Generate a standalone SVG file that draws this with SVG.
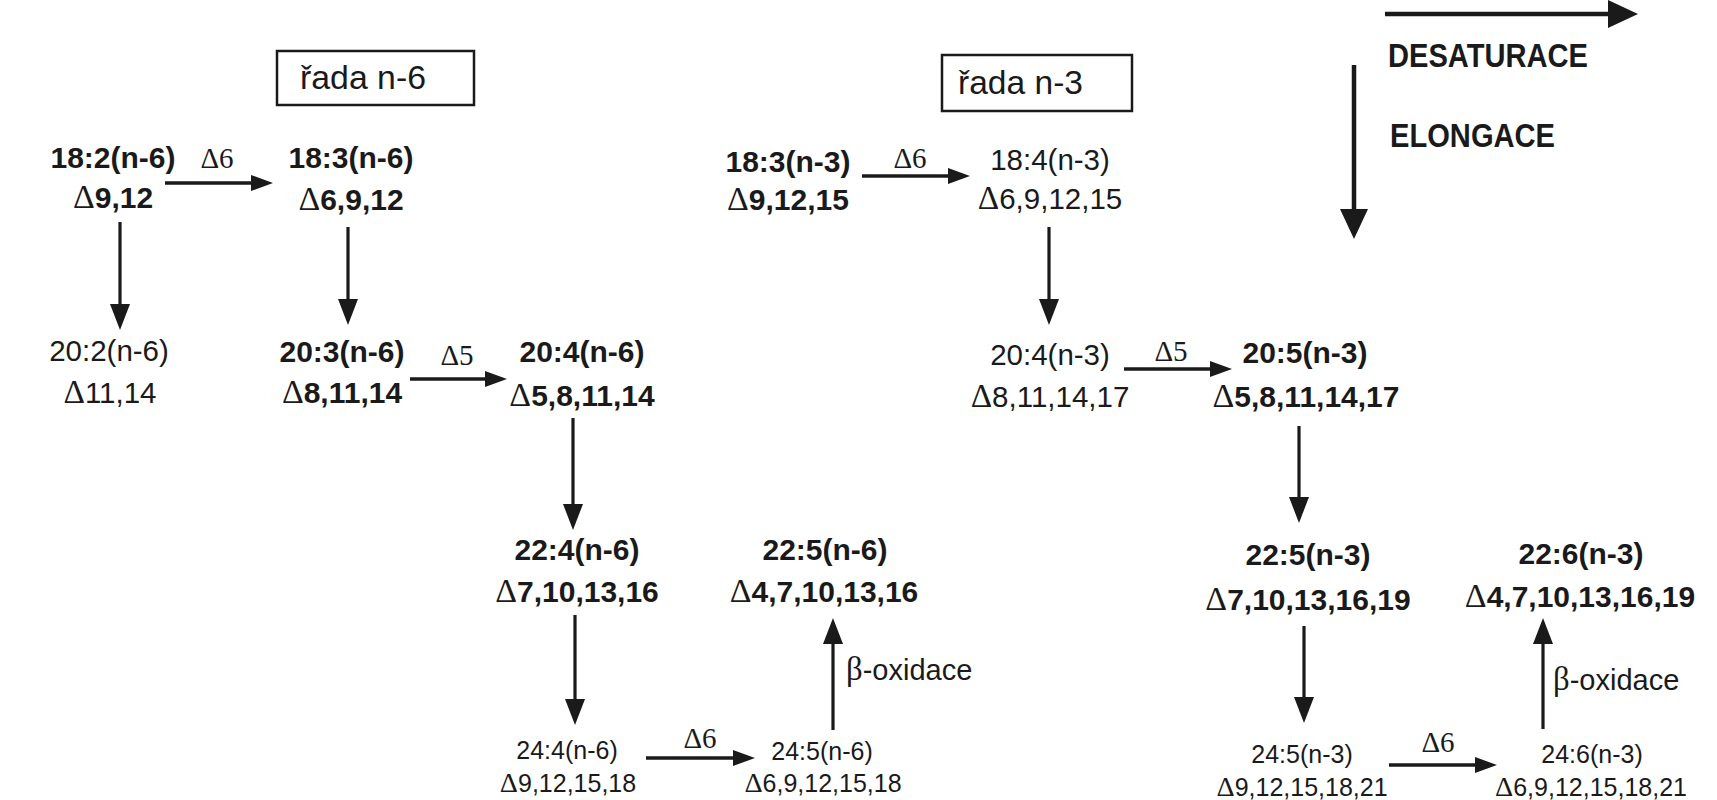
<svg xmlns="http://www.w3.org/2000/svg" width="1717" height="800" viewBox="0 0 1717 800">
<style>
text{fill:#1a1a1a}
.b{font-family:"Liberation Sans",Arial,sans-serif;font-weight:bold;font-size:30px;text-anchor:middle}
.r{font-family:"Liberation Sans",Arial,sans-serif;font-size:29.5px;text-anchor:middle}
.s{font-family:"Liberation Sans",Arial,sans-serif;font-size:25px;text-anchor:middle}
.d{font-family:"Liberation Serif","Times New Roman",serif;font-weight:normal;font-size:1.13em}
.lab{font-family:"Liberation Serif","Times New Roman",serif;font-size:29px;text-anchor:middle}
.ox{font-family:"Liberation Sans",Arial,sans-serif;font-size:29px}
.hdr{font-family:"Liberation Sans",Arial,sans-serif;font-weight:bold;font-size:33px}
.box{fill:none;stroke:#1a1a1a;stroke-width:2.5}
.ser{font-family:"Liberation Sans",Arial,sans-serif;font-size:33px}
.h{stroke:#1a1a1a;stroke-width:3.5;fill:none;marker-end:url(#ah)}
.v{stroke:#1a1a1a;stroke-width:3.2;fill:none;marker-end:url(#av)}
.big{stroke:#1a1a1a;stroke-width:4.5;fill:none;marker-end:url(#ab)}
</style>
<defs>
<marker id="ah" viewBox="0 0 22 16" refX="14" refY="8" markerWidth="22" markerHeight="16" markerUnits="userSpaceOnUse" orient="auto"><path d="M0,0 L22,8 L0,16 z" fill="#1a1a1a"/></marker>
<marker id="av" viewBox="0 0 26 20" refX="18" refY="10" markerWidth="26" markerHeight="20" markerUnits="userSpaceOnUse" orient="auto"><path d="M0,0 L26,10 L0,20 z" fill="#1a1a1a"/></marker>
<marker id="ab" viewBox="0 0 30 28" refX="20" refY="14" markerWidth="30" markerHeight="28" markerUnits="userSpaceOnUse" orient="auto"><path d="M0,0 L30,14 L0,28 z" fill="#1a1a1a"/></marker>
</defs>
<rect width="1717" height="800" fill="#fff"/>

<g id="series-n6">
<rect class="box" x="277" y="51" width="197" height="54"/>
<text class="ser" x="300" y="89" textLength="126" lengthAdjust="spacingAndGlyphs">řada n-6</text>
</g>
<g id="series-n3">
<rect class="box" x="942" y="55" width="190" height="56"/>
<text class="ser" x="958" y="94" textLength="125" lengthAdjust="spacingAndGlyphs">řada n-3</text>
</g>

<g id="legend">
<line class="big" x1="1385" y1="14" x2="1628" y2="14"/>
<text class="hdr" x="1388" y="67" textLength="200" lengthAdjust="spacingAndGlyphs">DESATURACE</text>
<text class="hdr" x="1390" y="147" textLength="165" lengthAdjust="spacingAndGlyphs">ELONGACE</text>
<line class="big" x1="1354" y1="65" x2="1354" y2="229"/>
</g>

<g id="n-18-2-n6"><text class="b" x="113" y="168">18:2(n-6)</text><text class="b" x="113" y="208"><tspan class="d">Δ</tspan>9,12</text></g>
<g id="n-18-3-n6"><text class="b" x="351" y="168">18:3(n-6)</text><text class="b" x="351" y="210"><tspan class="d">Δ</tspan>6,9,12</text></g>
<g id="n-20-2-n6"><text class="r" x="109" y="361">20:2(n-6)</text><text class="r" x="110" y="403"><tspan class="d">Δ</tspan>11,14</text></g>
<g id="n-20-3-n6"><text class="b" x="342" y="362">20:3(n-6)</text><text class="b" x="342" y="403"><tspan class="d">Δ</tspan>8,11,14</text></g>
<g id="n-20-4-n6"><text class="b" x="582" y="362">20:4(n-6)</text><text class="b" x="582" y="406"><tspan class="d">Δ</tspan>5,8,11,14</text></g>
<g id="n-22-4-n6"><text class="b" x="577" y="560">22:4(n-6)</text><text class="b" x="577" y="602"><tspan class="d">Δ</tspan>7,10,13,16</text></g>
<g id="n-22-5-n6"><text class="b" x="825" y="560">22:5(n-6)</text><text class="b" x="824" y="602"><tspan class="d">Δ</tspan>4,7,10,13,16</text></g>
<g id="n-24-4-n6"><text class="s" x="567" y="759">24:4(n-6)</text><text class="s" x="568" y="792"><tspan class="d">Δ</tspan>9,12,15,18</text></g>
<g id="n-24-5-n6"><text class="s" x="822" y="760">24:5(n-6)</text><text class="s" x="823" y="792"><tspan class="d">Δ</tspan>6,9,12,15,18</text></g>

<g id="n-18-3-n3"><text class="b" x="788" y="172">18:3(n-3)</text><text class="b" x="788" y="210"><tspan class="d">Δ</tspan>9,12,15</text></g>
<g id="n-18-4-n3"><text class="r" x="1050" y="170">18:4(n-3)</text><text class="r" x="1050" y="209"><tspan class="d">Δ</tspan>6,9,12,15</text></g>
<g id="n-20-4-n3"><text class="r" x="1050" y="365">20:4(n-3)</text><text class="r" x="1050" y="407"><tspan class="d">Δ</tspan>8,11,14,17</text></g>
<g id="n-20-5-n3"><text class="b" x="1305" y="363">20:5(n-3)</text><text class="b" x="1306" y="407"><tspan class="d">Δ</tspan>5,8,11,14,17</text></g>
<g id="n-22-5-n3"><text class="b" x="1308" y="565">22:5(n-3)</text><text class="b" x="1308" y="610"><tspan class="d">Δ</tspan>7,10,13,16,19</text></g>
<g id="n-22-6-n3"><text class="b" x="1581" y="564">22:6(n-3)</text><text class="b" x="1580" y="607"><tspan class="d">Δ</tspan>4,7,10,13,16,19</text></g>
<g id="n-24-5-n3"><text class="s" x="1302" y="763">24:5(n-3)</text><text class="s" x="1302" y="796"><tspan class="d">Δ</tspan>9,12,15,18,21</text></g>
<g id="n-24-6-n3"><text class="s" x="1592" y="763">24:6(n-3)</text><text class="s" x="1591" y="796"><tspan class="d">Δ</tspan>6,9,12,15,18,21</text></g>

<g id="connectors">
<line class="h" x1="165" y1="183" x2="265" y2="183"/>
<text class="lab" x="217" y="168">Δ6</text>
<line class="v" x1="120" y1="222" x2="120" y2="322"/>
<line class="v" x1="348" y1="227" x2="348" y2="317"/>
<line class="h" x1="410" y1="379" x2="499" y2="379"/>
<text class="lab" x="457" y="365">Δ5</text>
<line class="v" x1="573" y1="418" x2="573" y2="522"/>
<line class="v" x1="575" y1="615" x2="575" y2="717"/>
<line class="h" x1="646" y1="758" x2="747" y2="758"/>
<text class="lab" x="700" y="748">Δ6</text>
<line class="v" x1="833" y1="730" x2="833" y2="626"/>
<text class="ox" x="846" y="680"><tspan class="d">β</tspan>-oxidace</text>

<line class="h" x1="862" y1="176" x2="962" y2="176"/>
<text class="lab" x="910" y="168">Δ6</text>
<line class="v" x1="1049" y1="227" x2="1049" y2="317"/>
<line class="h" x1="1124" y1="369" x2="1224" y2="369"/>
<text class="lab" x="1171" y="361">Δ5</text>
<line class="v" x1="1299" y1="426" x2="1299" y2="515"/>
<line class="v" x1="1304" y1="626" x2="1304" y2="715"/>
<line class="h" x1="1389" y1="765" x2="1489" y2="765"/>
<text class="lab" x="1438" y="752">Δ6</text>
<line class="v" x1="1543" y1="729" x2="1543" y2="626"/>
<text class="ox" x="1553" y="690"><tspan class="d">β</tspan>-oxidace</text>
</g>
</svg>
